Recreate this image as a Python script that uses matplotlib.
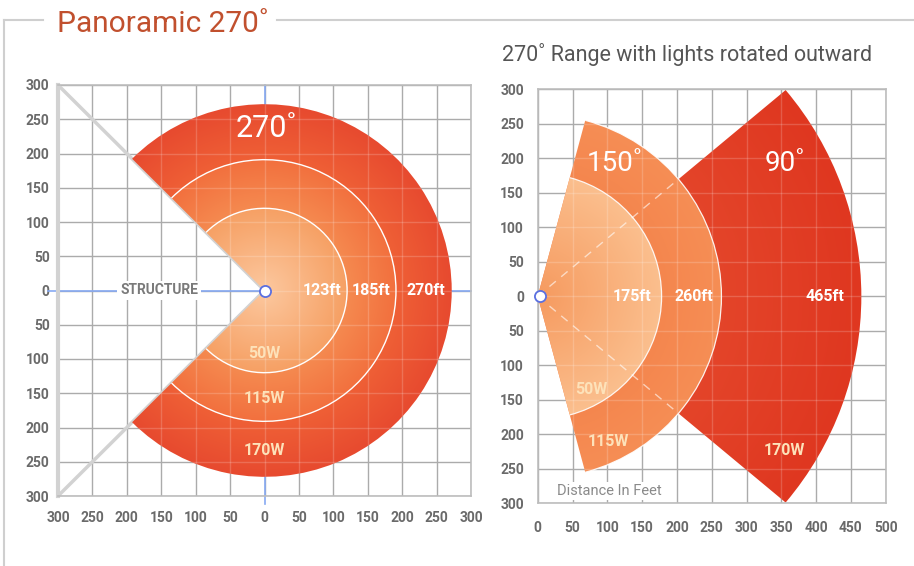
import numpy as np
import matplotlib
matplotlib.use('Agg')
import matplotlib.pyplot as plt
from matplotlib.patches import Wedge, Arc
from matplotlib.colors import to_rgb
from matplotlib.lines import Line2D

plt.rcParams['font.family'] = ['Roboto', 'DejaVu Sans']

# left chart - panoramic 270 (rings, drawn radius in feet)
pan_radii = [120, 191, 272]
pan_range_labels = ['123ft', '185ft', '270ft']
pan_watt_labels = ['50W', '115W', '170W']
pan_span = 270
pan_colors = [('#fcc89f', '#f6a064'), ('#f58a50', '#f2703e'), ('#ef6036', '#e74a2f')]

# right chart - lights rotated outward (sectors)
rot_radii = [178, 264, 465]
rot_spans = [150, 150, 80]
rot_range_labels = ['175ft', '260ft', '465ft']
rot_watt_labels = ['50W', '115W', '170W']
rot_colors = [('#f69a5f', '#fbbf8e'), ('#f27640', '#f68e55'), ('#ea5636', '#df3720')]

ticks_sym = list(range(-300, 301, 50))
ticks_x_right = list(range(0, 501, 50))

TICK_COL = '#6a6a6a'
GRID_COL = '#ababab'
WATT_COL = '#fde2ba'


def radial_fill(ax, extent, stops, clip, z):
    x0, x1, y0, y1 = extent
    X, Y = np.meshgrid(np.linspace(x0, x1, 700), np.linspace(y0, y1, 700))
    R = np.hypot(X, Y)
    img = np.ones(R.shape + (3,))
    for r_in, r_out, c0, c1 in stops:
        m = (R >= r_in) & (R <= r_out + 2)
        t = np.clip((R[m] - r_in) / (r_out - r_in), 0, 1)
        img[m] = (1 - t)[:, None] * np.array(to_rgb(c0)) + t[:, None] * np.array(to_rgb(c1))
    im = ax.imshow(img, extent=extent, origin='lower', aspect='auto',
                   interpolation='bilinear', zorder=z)
    im.set_clip_path(clip)
    return im


def white_grid(ax, xs, ys, clip, z):
    for v in xs:
        l = ax.axvline(v, color='white', lw=1, alpha=0.18, zorder=z)
        l.set_clip_path(clip)
    for v in ys:
        l = ax.axhline(v, color='white', lw=1, alpha=0.18, zorder=z)
        l.set_clip_path(clip)


def style_axes(ax, xt, yt, xpad, ypad):
    ax.set_xticks(xt)
    ax.set_yticks(yt)
    ax.set_xticklabels([str(abs(v)) for v in xt], fontweight='bold')
    ax.set_yticklabels([str(abs(v)) for v in yt], fontweight='bold')
    ax.tick_params(length=0, labelsize=10, labelcolor=TICK_COL)
    ax.tick_params(axis='x', pad=xpad)
    ax.tick_params(axis='y', pad=ypad)
    ax.grid(True, color=GRID_COL, lw=1)
    ax.set_axisbelow(True)
    for s in ax.spines.values():
        s.set_color('#bdbdbd')
        s.set_linewidth(1.2)


fig = plt.figure(figsize=(9.14, 5.66), dpi=100)

# frame around the left panel
fig.add_artist(Line2D([4 / 914, 4 / 914], [0, 1 - 20 / 566], color='#cfcfcf', lw=1.5))
fig.add_artist(Line2D([4 / 914, 43 / 914], [1 - 20 / 566] * 2, color='#cfcfcf', lw=1.5))
fig.add_artist(Line2D([277 / 914, 1], [1 - 20 / 566] * 2, color='#cfcfcf', lw=1.5))
fig.text(57 / 914, 1 - 24 / 566, 'Panoramic 270˚', color='#c1502e', fontsize=21.5, va='center')
fig.text(502 / 914, 1 - 55 / 566, '270˚ Range with lights rotated outward',
         color='#555555', fontsize=15.5, va='center')

# ---------------- left chart ----------------
ax1 = fig.add_axes([58 / 914, 1 - 496 / 566, 413 / 914, 411 / 566])
half = pan_span / 2
clip1 = Wedge((0, 0), pan_radii[-1], -half, half, facecolor='none', edgecolor='none')
ax1.add_patch(clip1)

# blue crosshair
ax1.plot([-315, 300], [0, 0], color='#86a9f2', lw=1.2, zorder=1.2, clip_on=False)
ax1.plot([0, 0], [300, -312], color='#86a9f2', lw=1.2, zorder=1.2, clip_on=False)
# structure walls
ax1.plot([0, -300], [0, 300], color='#d2d2d2', lw=2.5, zorder=1.3)
ax1.plot([0, -300], [0, -300], color='#d2d2d2', lw=2.5, zorder=1.3)

stops = []
r_prev = 0
for r, (c0, c1) in zip(pan_radii, pan_colors):
    stops.append((r_prev, r, c0, c1))
    r_prev = r
radial_fill(ax1, (-300, 300, -300, 300), stops, clip1, 1.5)
white_grid(ax1, ticks_sym, ticks_sym, clip1, 1.6)
for r in pan_radii[:-1]:
    ax1.add_patch(Arc((0, 0), 2 * r, 2 * r, theta1=-half, theta2=half,
                      color='white', lw=1, zorder=1.7))

ax1.text(3, 236, '270˚', color='white', fontsize=22, ha='center', va='center', zorder=3)
for x, s in zip([84, 155, 234], pan_range_labels):
    ax1.text(x, 0, s, color='white', fontsize=11.5, fontweight='bold',
             ha='center', va='center', zorder=3)
for y, s in zip([-92, -158, -233], pan_watt_labels):
    ax1.text(0, y, s, color=WATT_COL, fontsize=11.5, fontweight='bold',
             ha='center', va='center', zorder=3)
ax1.text(-153, 0, 'STRUCTURE', color='#7a7a7a', fontsize=10, fontweight='bold',
         ha='center', va='center', zorder=3,
         bbox=dict(facecolor='white', edgecolor='none', pad=2))
ax1.plot([0], [0], 'o', ms=8, mfc='white', mec='#5a6fe0', mew=1.3, zorder=5, clip_on=False)

ax1.set_xlim(-300, 300)
ax1.set_ylim(-300, 300)
style_axes(ax1, ticks_sym, ticks_sym, 11, 6)
ax1.spines['left'].set_color('#d2d2d2')
ax1.spines['left'].set_linewidth(3)

# ---------------- right chart ----------------
ax2 = fig.add_axes([537.7 / 914, 1 - 503.3 / 566, 348 / 914, 414 / 566])
z = 1.5
for r, span, (c0, c1) in zip(rot_radii[::-1], rot_spans[::-1], rot_colors[::-1]):
    w = Wedge((0, 0), r, -span / 2, span / 2, facecolor='none', edgecolor='none')
    ax2.add_patch(w)
    radial_fill(ax2, (0, 500, -300, 300), [(0, r, c0, c1)], w, z)
    white_grid(ax2, ticks_x_right, ticks_sym, w, z + 0.05)
    if r != rot_radii[-1]:
        ax2.add_patch(Arc((0, 0), 2 * r, 2 * r, theta1=-span / 2, theta2=span / 2,
                          color='white', lw=0.9, alpha=0.9, zorder=z + 0.08))
    z += 0.1

# edges of the 90 degree sector showing through the others
a = np.deg2rad(rot_spans[-1] / 2)
for sgn in (1, -1):
    ax2.plot([0, rot_radii[1] * np.cos(a)], [0, sgn * rot_radii[1] * np.sin(a)],
             color='white', lw=1, alpha=0.6, ls=(0, (6, 5)), zorder=2.2)

ax2.text(111, 193, '150˚', color='white', fontsize=20, ha='center', va='center', zorder=3)
ax2.text(355, 193, '90˚', color='white', fontsize=20, ha='center', va='center', zorder=3)
for x, s in zip([135, 225, 412], rot_range_labels):
    ax2.text(x, 0, s, color='white', fontsize=11.5, fontweight='bold',
             ha='center', va='center', zorder=3)
for (x, y), s in zip([(77, -135), (101, -210), (355, -223)], rot_watt_labels):
    ax2.text(x, y, s, color=WATT_COL, fontsize=11.5, fontweight='bold',
             ha='center', va='center', zorder=3)
ax2.text(103, -282, 'Distance In Feet', color='#8a8a8a', fontsize=10.5,
         ha='center', va='center', zorder=3,
         bbox=dict(facecolor='white', edgecolor='none', pad=1.5))
ax2.plot([4], [0], 'o', ms=8, mfc='white', mec='#5a6fe0', mew=1.3, zorder=5, clip_on=False)

ax2.set_xlim(0, 500)
ax2.set_ylim(-300, 300)
style_axes(ax2, ticks_x_right, ticks_sym, 13, 10)

fig.savefig('out.png', dpi=100)
